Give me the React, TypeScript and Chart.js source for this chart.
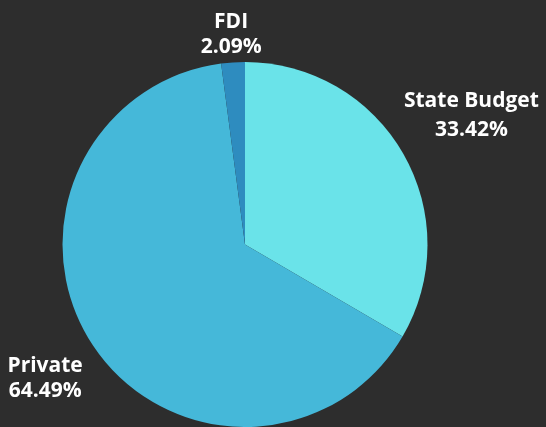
import React, { useEffect, useRef } from "react";
import { Chart, registerables } from "chart.js";

Chart.register(...registerables);

const categories = ["State Budget", "Private", "FDI"];
const values = [33.42, 64.49, 2.09];
const valueLabels = ["33.42%", "64.49%", "2.09%"];
const colors = ["#6ae3e9", "#45b8d9", "#2e8cbf"];
const labelRadius = [1.43, 1.315, 1.16];
const lineGaps = [29, 25, 25];

const labelPlugin = {
  id: "outerLabels",
  afterDraw(chart: any) {
    const ctx = chart.ctx;
    const meta = chart.getDatasetMeta(0);
    ctx.save();
    ctx.fillStyle = "#ffffff";
    ctx.font = "bold 21px 'Open Sans'";
    ctx.textAlign = "center";
    ctx.textBaseline = "alphabetic";
    meta.data.forEach((arc: any, i: number) => {
      const { x, y, startAngle, endAngle, outerRadius } = arc.getProps(
        ["x", "y", "startAngle", "endAngle", "outerRadius"],
        true
      );
      const mid = (startAngle + endAngle) / 2;
      const r = outerRadius * labelRadius[i];
      const lx = x + Math.cos(mid) * r;
      const ly = y + Math.sin(mid) * r;
      const gap = lineGaps[i];
      ctx.fillText(categories[i], lx, ly - gap / 2 + 7);
      ctx.fillText(valueLabels[i], lx, ly + gap / 2 + 7);
    });
    ctx.restore();
  },
};

export default function App() {
  const ref = useRef<HTMLCanvasElement>(null);
  useEffect(() => {
    document.body.style.margin = "0";
    const chart = new Chart(ref.current!, {
      type: "pie",
      data: {
        labels: categories,
        datasets: [
          {
            data: values,
            backgroundColor: colors,
            borderWidth: 0,
          },
        ],
      },
      options: {
        animation: false,
        responsive: false,
        layout: { padding: { left: 62, right: 118, top: 62, bottom: 0 } },
        plugins: {
          legend: { display: false },
          tooltip: { enabled: false },
        },
      },
      plugins: [labelPlugin],
    });
    return () => chart.destroy();
  }, []);
  return (
    <div style={{ width: 546, height: 427, background: "#2d2d2d" }}>
      <canvas ref={ref} width={546} height={427} />
    </div>
  );
}
